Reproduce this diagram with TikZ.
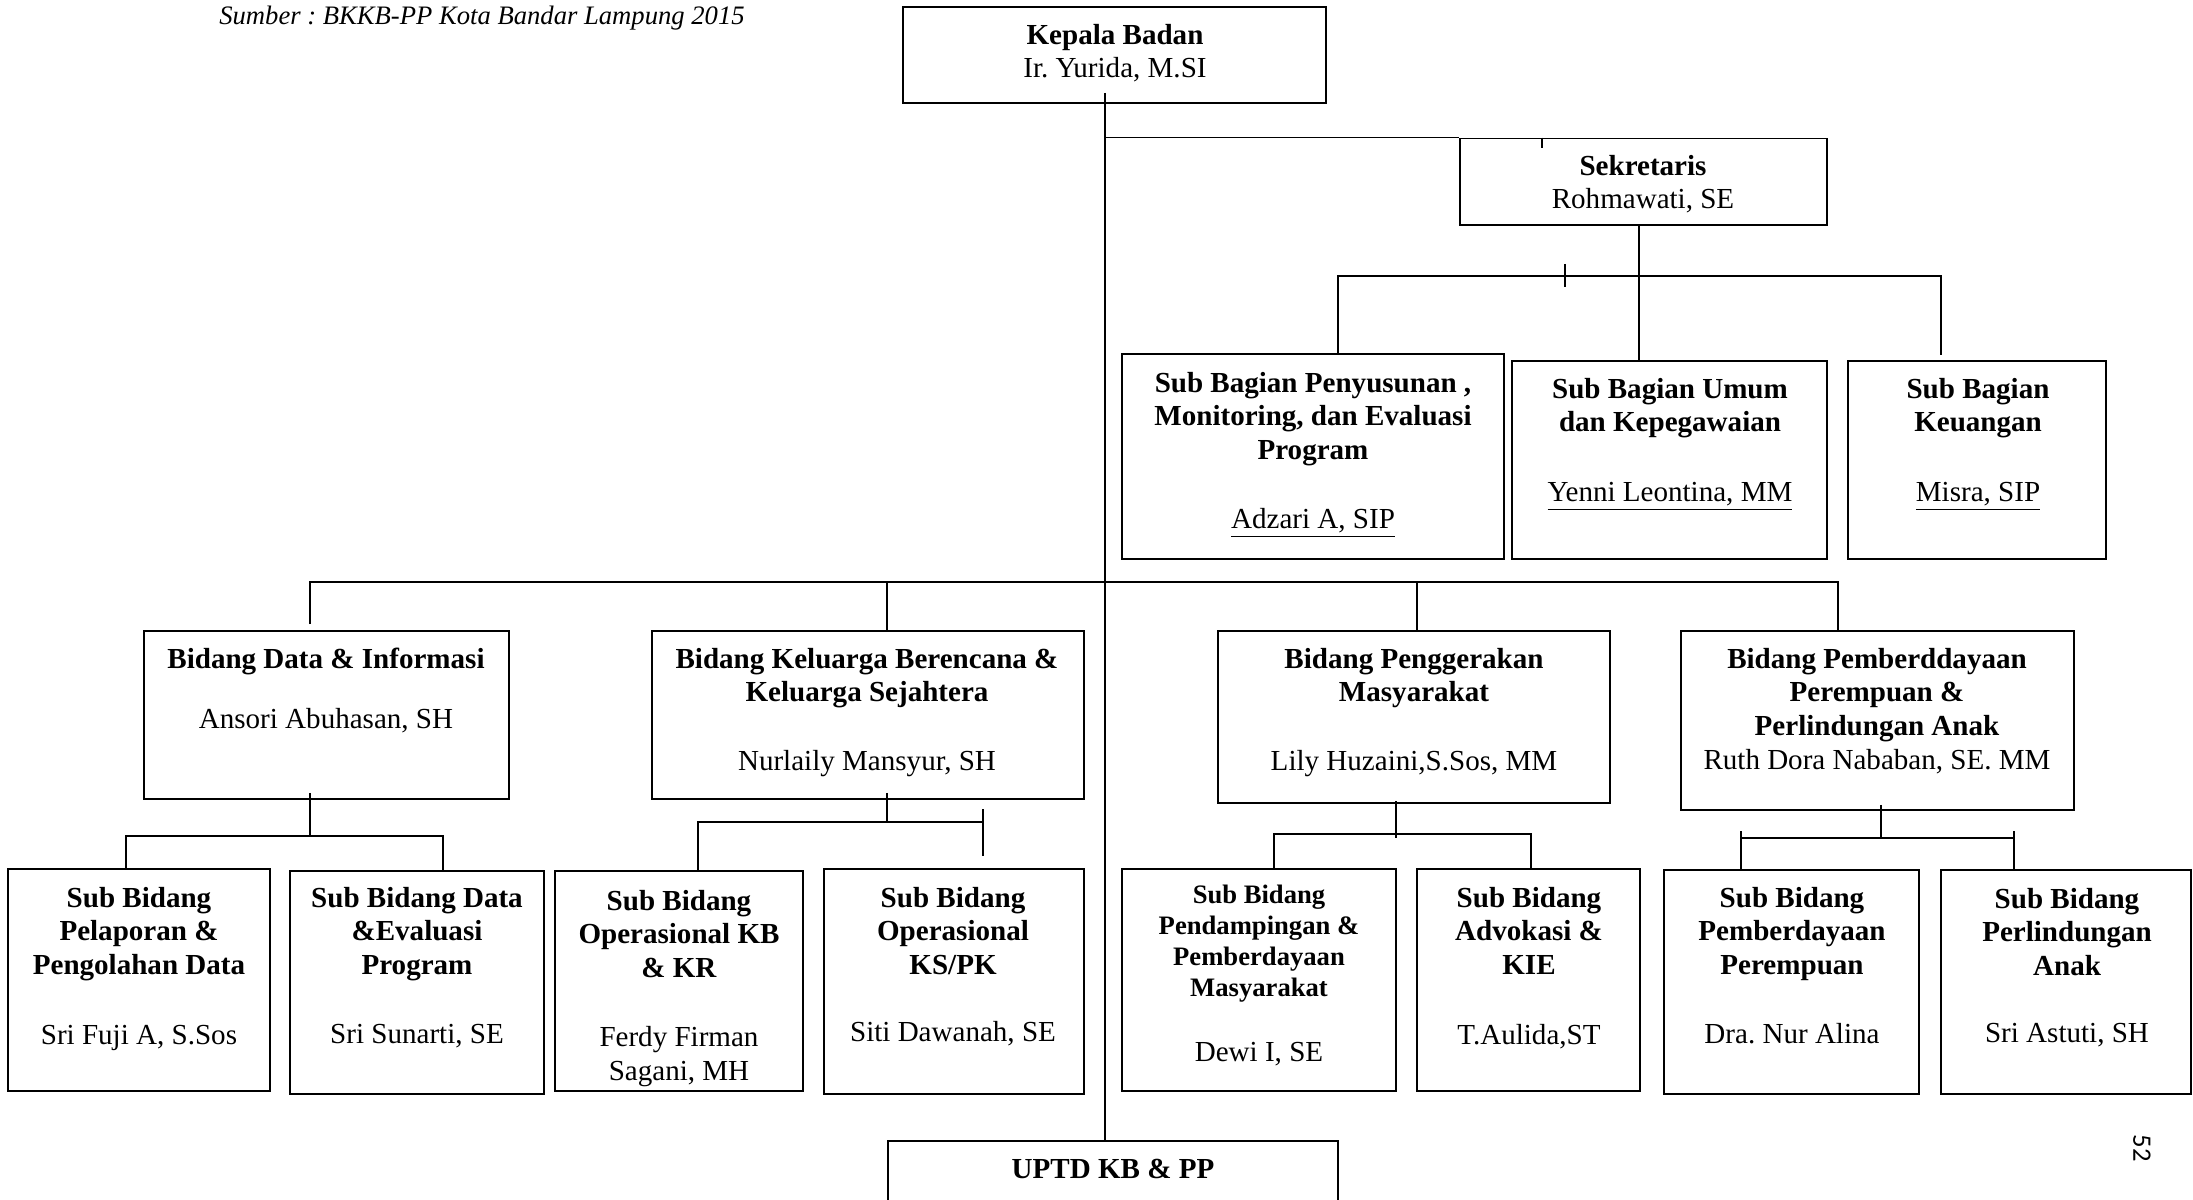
\documentclass[tikz,border=0pt]{standalone}
\usepackage{fontspec}
\setmainfont{Liberation Serif}
\newfontfamily\pgnumfont{Carlito}
\usetikzlibrary{fit}
\newcommand{\BB}[1]{\textbf{#1}}
\frenchspacing
\begin{document}
\frenchspacing
\begin{tikzpicture}[x=0.413pt, y=-0.413pt,
  box/.style={draw, line width=0.8pt, inner sep=0pt},
  conn/.style={line width=0.7pt},
  txt/.style={align=center, inner sep=0pt, anchor=north, font=\fontsize{12}{13.9}\selectfont},
  stxt/.style={align=center, inner sep=0pt, anchor=north, font=\fontsize{11}{12.8}\selectfont},
]
\useasboundingbox (0,0) rectangle (2193,1200);
\clip (0,0) rectangle (2193,1200);

% source line
\node[font=\itshape\fontsize{11}{13}\selectfont, anchor=base, inner sep=0pt] (src) at (482,25) {Sumber : BKKB-PP Kota Bandar Lampung 2015};

% top level
\node[box, fit={(903,7) (1326,103)}] (kep) {};
\node[txt] (kept) at (1115,20) {\strut\BB{Kepala Badan}\\Ir. Yurida, M.SI};

\node[box, fit={(1460,138.5) (1827,225)}] (sek) {};
\node[txt] (sekt) at (1643,151) {\strut\BB{Sekretaris}\\Rohmawati, SE};

% sub bagian
\node[box, fit={(1122,354) (1504,559)}] (sb1) {};
\node[txt] (sb1t) at (1313,368) {\strut\BB{Sub Bagian Penyusunan ,}\\\BB{Monitoring, dan Evaluasi}\\\BB{Program}\\[14.6pt]\underline{Adzari A, SIP}};
\node[box, fit={(1512,361) (1827,559)}] (sb2) {};
\node[txt] (sb2t) at (1670,374) {\strut\BB{Sub Bagian Umum}\\\BB{dan Kepegawaian}\\[15pt]\underline{Yenni Leontina, MM}};
\node[box, fit={(1848,361) (2106,559)}] (sb3) {};
\node[txt] (sb3t) at (1978,374) {\strut\BB{Sub Bagian}\\\BB{Keuangan}\\[15pt]\underline{Misra, SIP}};

% bidang
\node[box, fit={(144,631) (509,799)}] (bd) {};
\node[txt] (bdt) at (326,644) {\strut\BB{Bidang Data \& Informasi}\\[11.2pt]Ansori Abuhasan, SH};
\node[box, fit={(652,631) (1084,799)}] (bkb) {};
\node[txt] (bkbt) at (867,644) {\strut\BB{Bidang Keluarga Berencana \&}\\\BB{Keluarga Sejahtera}\\[14.6pt]Nurlaily Mansyur, SH};
\node[box, fit={(1218,631) (1610,803)}] (bpg) {};
\node[txt] (bpgt) at (1414,644) {\strut\BB{Bidang Penggerakan}\\\BB{Masyarakat}\\[14.6pt]Lily Huzaini,S.Sos, MM};
\node[box, fit={(1681,631) (2074,810)}] (bpp) {};
\node[txt] (bppt) at (1877,644) {\strut\BB{Bidang Pemberddayaan}\\\BB{Perempuan \&}\\\BB{Perlindungan Anak}\\Ruth Dora Nababan, SE. MM};

% sub bidang
\node[box, fit={(8,869) (270,1091)}] (s1) {};
\node[txt] (s1t) at (139,883) {\strut\BB{Sub Bidang}\\\BB{Pelaporan \&}\\\BB{Pengolahan Data}\\[15pt]Sri Fuji A, S.Sos};
\node[box, fit={(290,871) (544,1094)}] (s2) {};
\node[txt] (s2t) at (417,883) {\strut\BB{Sub Bidang Data}\\\BB{\&Evaluasi}\\\BB{Program}\\[14.6pt]Sri Sunarti, SE};
\node[box, fit={(555,871) (803,1091)}] (s3) {};
\node[txt] (s3t) at (679,886) {\strut\BB{Sub Bidang}\\\BB{Operasional KB}\\\BB{\& KR}\\[14.6pt]Ferdy Firman\\Sagani, MH};
\node[box, fit={(824,869) (1084,1094)}] (s4) {};
\node[txt] (s4t) at (953,883) {\strut\BB{Sub Bidang}\\\BB{Operasional}\\\BB{KS/PK}\\[14pt]Siti Dawanah, SE};
\node[box, fit={(1122,869) (1396,1091)}] (s5) {};
\node[stxt] (s5t) at (1259,881) {\strut\BB{Sub Bidang}\\\BB{Pendampingan \&}\\\BB{Pemberdayaan}\\\BB{Masyarakat}\\[14pt]{\fontsize{12}{13.9}\selectfont Dewi I, SE}};
\node[box, fit={(1417,869) (1640,1091)}] (s6) {};
\node[txt] (s6t) at (1529,883) {\strut\BB{Sub Bidang}\\\BB{Advokasi \&}\\\BB{KIE}\\[15pt]T.Aulida,ST};
\node[box, fit={(1664,870) (1919,1094)}] (s7) {};
\node[txt] (s7t) at (1792,883) {\strut\BB{Sub Bidang}\\\BB{Pemberdayaan}\\\BB{Perempuan}\\[14.6pt]Dra. Nur Alina};
\node[box, fit={(1941,870) (2191,1094)}] (s8) {};
\node[txt] (s8t) at (2067,884) {\strut\BB{Sub Bidang}\\\BB{Perlindungan}\\\BB{Anak}\\[13.8pt]Sri Astuti, SH};

% UPTD
\node[box, fit={(888,1141) (1338,1240)}] (uptd) {};
\node[font=\fontsize{12}{13.9}\selectfont, anchor=base, inner sep=0pt] (uptdt) at (1113,1178) {\BB{UPTD KB \& PP}};

% page number
\node[font=\pgnumfont\fontsize{11}{13}\selectfont, rotate=-90, inner sep=0pt] (pg) at (2142,1148) {52};

% ---- connectors ----
\coordinate (t0) at (1105,93);
\draw[conn] (t0) -- (t0 |- uptd.north);
\draw[conn] (t0 |- sek.north) -- (sek.north west);
\draw[conn] (sek.north west) ++(83,0) -- ++(0,10.5);

\coordinate (sj) at (1639,276);
\coordinate (sl) at (1338,276);
\coordinate (sr) at (1941,276);
\draw[conn] (sj |- sek.south) -- (sj |- sb2.north);
\draw[conn] (sl |- sb1.north) -- (sl) -- (sr) -- ++(0,79);
\draw[conn] (sj) ++(-74,-12) -- ++(0,23);

\coordinate (ml) at (310,582);
\coordinate (m2) at (887,582);
\coordinate (m3) at (1417,582);
\coordinate (mr) at (1838,582);
\draw[conn] (ml) ++(0,42) -- (ml) -- (mr) -- (mr |- bpp.north);
\draw[conn] (m2) -- (m2 |- bkb.north);
\draw[conn] (m3) -- (m3 |- bpg.north);

% Data & Informasi
\coordinate (d0) at (310,836);
\coordinate (dl) at (126,836);
\coordinate (dr) at (443,836);
\draw[conn] ([yshift=2.9pt]d0 |- bd.south) -- (d0);
\draw[conn] (dl |- s1.north) -- (dl) -- (dr) -- (dr |- s2.north);

% KB
\coordinate (k0) at (887,822);
\coordinate (kl) at (698,822);
\coordinate (kr) at (983,822);
\draw[conn] ([yshift=2.9pt]k0 |- bkb.south) -- (k0);
\draw[conn] (kl |- s3.north) -- (kl) -- (kr);
\draw[conn] (kr) ++(0,-13) -- ++(0,47);

% Penggerakan
\coordinate (p0) at (1396,838);
\coordinate (pl) at (1274,834);
\coordinate (pr) at (1531,834);
\draw[conn] ([yshift=1.2pt]p0 |- bpg.south) -- (p0);
\draw[conn] (pl |- s5.north) -- (pl) -- (pr) -- (pr |- s6.north);

% Pemberdayaan
\coordinate (q0) at (1881,838);
\coordinate (ql) at (1741,838);
\coordinate (qr) at (2014,838);
\draw[conn] ([yshift=2.5pt]q0 |- bpp.south) -- (q0);
\draw[conn] (ql) -- (qr);
\draw[conn] (ql) ++(0,-7) -- (ql |- s7.north);
\draw[conn] (qr) ++(0,-7) -- (qr |- s8.north);
\end{tikzpicture}
\end{document}
